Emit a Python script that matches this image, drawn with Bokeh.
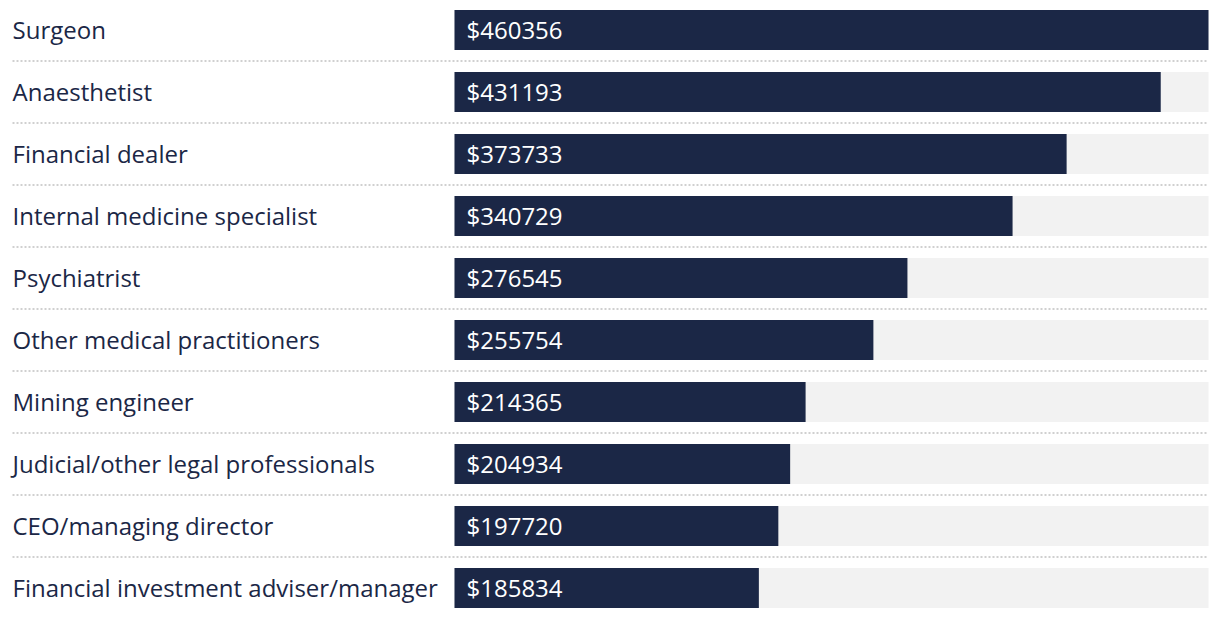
from bokeh.plotting import figure
from bokeh.models import Range1d
from bokeh.core.properties import value
from bokeh.embed import file_html
from bokeh.resources import INLINE

occupations = [
    "Surgeon",
    "Anaesthetist",
    "Financial dealer",
    "Internal medicine specialist",
    "Psychiatrist",
    "Other medical practitioners",
    "Mining engineer",
    "Judicial/other legal professionals",
    "CEO/managing director",
    "Financial investment adviser/manager",
]
salaries = [460356, 431193, 373733, 340729, 276545, 255754, 214365, 204934, 197720, 185834]
value_labels = ["$%d" % s for s in salaries]

W, H = 1216, 614
BAR_X0 = 454          # px where bars start
BAR_X1 = 1208         # px where max bar ends
ROW_TOP = 29.5        # px of first row centre
ROW_STEP = 62.0
FONT = "Open Sans"

vmax = max(salaries)
px_per_unit = (BAR_X1 - BAR_X0) / vmax
x_start = -BAR_X0 / px_per_unit
x_end = (W - BAR_X0) / px_per_unit
y_top = -ROW_TOP / ROW_STEP
y_bottom = (H - ROW_TOP) / ROW_STEP

p = figure(width=W, height=H, output_backend="svg", toolbar_location=None,
           x_range=Range1d(x_start, x_end), y_range=Range1d(y_bottom, y_top),
           min_border=0, outline_line_color=None)
p.axis.visible = False
p.grid.visible = False
p.background_fill_color = "white"
p.border_fill_color = "white"

n = len(occupations)
ys = list(range(n))
bh = 40 / ROW_STEP

# grey tracks
p.hbar(y=ys, left=0, right=[vmax] * n, height=bh, fill_color="#f2f2f2", line_color=None)
# bars
p.hbar(y=ys, left=0, right=salaries, height=bh, fill_color="#1b2746", line_color=None)

# separators
lx0 = x_start + 12 / px_per_unit
for i in range(n - 1):
    p.line(x=[lx0, vmax], y=[i + 0.5, i + 0.5], line_color="#d0d0d0",
           line_width=2, line_dash="2 2")

# category labels
p.text(x=[lx0] * n, y=ys, text=occupations, text_font=value(FONT),
       text_font_size="24px", text_color="#1b2746", text_baseline="middle",
       text_align="left", y_offset=-1)
# value labels
vx = 12 / px_per_unit
p.text(x=[vx] * n, y=ys, text=value_labels, text_font=value(FONT),
       text_font_size="24px", text_color="white", text_baseline="middle",
       text_align="left", y_offset=-1)

open("out.html", "w").write(file_html(p, INLINE))
